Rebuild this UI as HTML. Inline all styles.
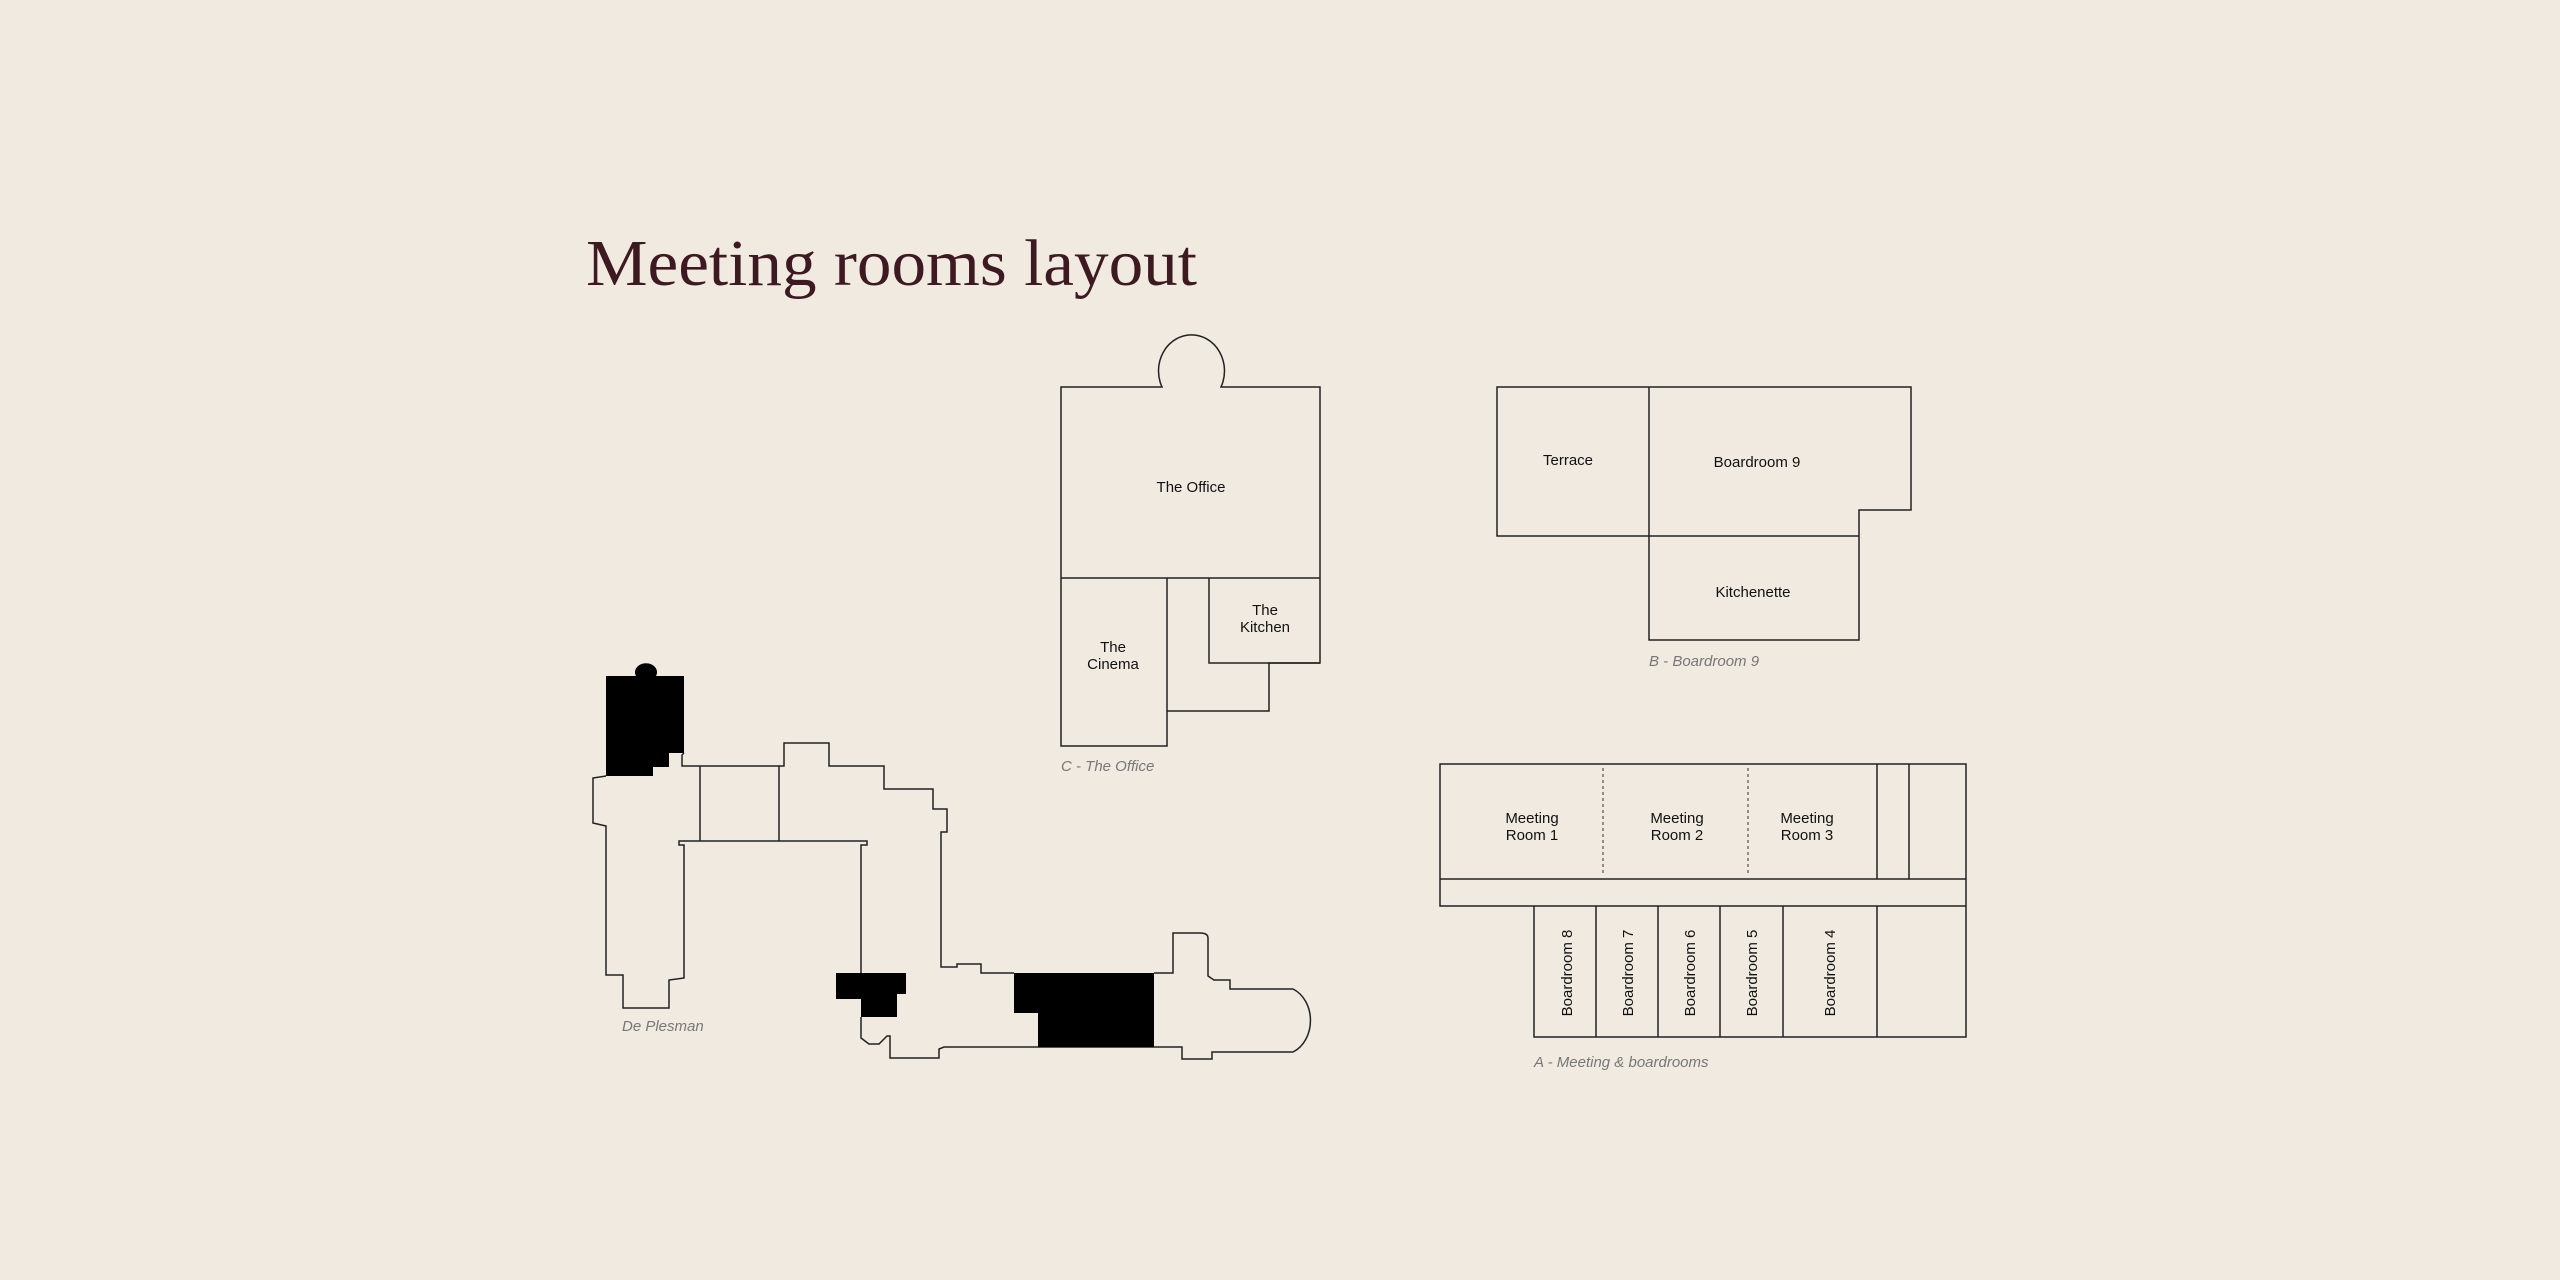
<!DOCTYPE html>
<html><head><meta charset="utf-8"><style>
html,body{margin:0;padding:0;background:#f0eae1;}
svg{display:block}
.l{fill:none;stroke:#222;stroke-width:1.5;stroke-linejoin:miter}
.t{font-family:"Liberation Sans",sans-serif;font-size:15px;fill:#111;text-anchor:middle}
.c{font-family:"Liberation Sans",sans-serif;font-size:15px;fill:#777;font-style:italic}
</style></head><body>
<svg width="2560" height="1280" viewBox="0 0 2560 1280" xmlns="http://www.w3.org/2000/svg">
<rect width="2560" height="1280" fill="#f0eae1"/>
<text x="586" y="285" font-family="'Liberation Serif',serif" font-size="66" fill="#3d1a22" textLength="611" lengthAdjust="spacingAndGlyphs">Meeting rooms layout</text>

<!-- C - The Office -->
<path class="l" d="M1162,387 L1061,387 L1061,746 L1167,746 L1167,711 L1269,711 L1269,663 L1320,663 L1320,387 L1221,387 A33,36 0 1 0 1162,387 Z"/>
<path class="l" d="M1061,578 L1320,578 M1167,578 L1167,711 M1209,578 L1209,663 L1320,663"/>
<text class="t" x="1191" y="492">The Office</text>
<text class="t" x="1113" y="652">The</text>
<text class="t" x="1113" y="669">Cinema</text>
<text class="t" x="1265" y="615">The</text>
<text class="t" x="1265" y="632">Kitchen</text>
<text class="c" x="1061" y="771">C - The Office</text>

<!-- B - Boardroom 9 -->
<path class="l" d="M1497,387 L1911,387 L1911,510 L1859,510 L1859,640 L1649,640 L1649,536 L1497,536 Z M1649,387 L1649,536 L1859,536"/>
<text class="t" x="1568" y="465">Terrace</text>
<text class="t" x="1757" y="467">Boardroom 9</text>
<text class="t" x="1753" y="597">Kitchenette</text>
<text class="c" x="1649" y="666">B - Boardroom 9</text>

<!-- A - Meeting & boardrooms -->
<path class="l" d="M1440,764 L1966,764 L1966,1037 L1534,1037 L1534,906 L1440,906 Z M1440,879 L1966,879 M1440,906 L1966,906 M1877,764 L1877,879 M1909,764 L1909,879 M1596,906 L1596,1037 M1658,906 L1658,1037 M1720,906 L1720,1037 M1783,906 L1783,1037 M1877,906 L1877,1037"/>
<path d="M1603,768 L1603,875 M1748,768 L1748,875" stroke="#333" stroke-width="1" stroke-dasharray="3,3"/>
<text class="t" x="1532" y="823">Meeting</text><text class="t" x="1532" y="840">Room 1</text>
<text class="t" x="1677" y="823">Meeting</text><text class="t" x="1677" y="840">Room 2</text>
<text class="t" x="1807" y="823">Meeting</text><text class="t" x="1807" y="840">Room 3</text>
<text class="t" transform="translate(1572,973) rotate(-90)">Boardroom 8</text>
<text class="t" transform="translate(1633,973) rotate(-90)">Boardroom 7</text>
<text class="t" transform="translate(1695,973) rotate(-90)">Boardroom 6</text>
<text class="t" transform="translate(1757,973) rotate(-90)">Boardroom 5</text>
<text class="t" transform="translate(1835,973) rotate(-90)">Boardroom 4</text>
<text class="c" x="1534" y="1067">A - Meeting &amp; boardrooms</text>

<!-- De Plesman -->
<path class="l" d="M606,776 L593,778 L593,823 L606,826 L606,975 L623,975 L623,1008 L669,1008 L669,980 L684,978 L684,965 L684,845 L679,845 L679,841 L867,841 L867,845 L861,845 L861,973"/>
<path class="l" d="M861,1017 L861,1038 L869,1044 L879,1044 L887,1036 L890,1036 L890,1058 L939,1058 L939,1049 L944,1047 L1182,1047 L1182,1059 L1212,1059 L1212,1052 L1293,1052 A28,34 0 0 0 1293,989 L1230,989 L1230,980 L1214,980 L1208,976 L1208,938 Q1208,933 1200,933 L1173,933 L1173,973 L1154,973"/>
<path class="l" d="M1014,973 L981,973 L981,964 L957,964 L957,967 L941,967 L941,832 L947,832 L947,809 L933,809 L933,789 L884,789 L884,766 L829,766 L829,743 L784,743 L784,766 L682,766 L682,755 L684,753"/>
<path class="l" d="M700,766 L700,841 M779,766 L779,841"/>
<path d="M606,676 L636,676 A11,9 0 1 1 656,676 L684,676 L684,753 L669,753 L669,767 L653,767 L653,776 L606,776 Z" fill="#000"/>
<path d="M836,973 L906,973 L906,994 L897,994 L897,1017 L861,1017 L861,999 L836,999 Z" fill="#000"/>
<path d="M1014,973 L1154,973 L1154,1047 L1038,1047 L1038,1013 L1014,1013 Z" fill="#000"/>
<text class="c" x="622" y="1031">De Plesman</text>
</svg>
</body></html>
